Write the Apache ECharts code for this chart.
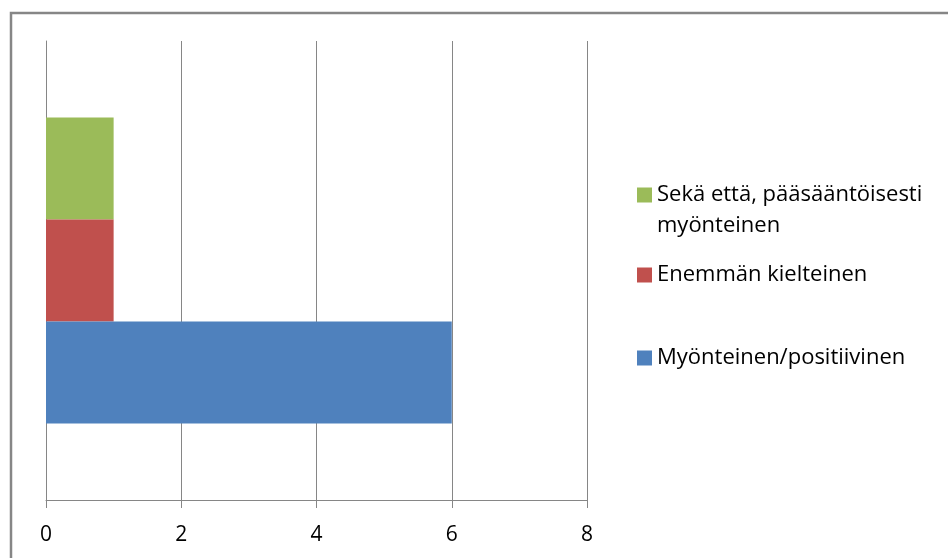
<!DOCTYPE html>
<html>
<head>
<meta charset="utf-8">
<script src="https://cdn.jsdelivr.net/npm/echarts@6/dist/echarts.min.js"></script>
<style>
  html, body { margin: 0; padding: 0; background: #fff; }
  #chart { width: 948px; height: 558px; }
</style>
</head>
<body>
<div id="chart"></div>
<script>
// Answer categories and counts
const categories = [''];
const seriesNames = ['Sekä että, pääsääntöisesti myönteinen', 'Enemmän kielteinen', 'Myönteinen/positiivinen'];
const legendLabels = ['Sekä että, pääsääntöisesti', 'Enemmän kielteinen', 'Myönteinen/positiivinen'];
const legendSecondLine = 'myönteinen';
const sekaEtta = [1];
const kielteinen = [1];
const myonteinen = [6];
const xTicks = { min: 0, max: 8, interval: 2 };

const colors = ['#9BBB59', '#C0504D', '#4F81BD'];
const values = [sekaEtta, kielteinen, myonteinen];
const grey = '#868686';
const font = '"Open Sans", Lato, sans-serif';

const chart = echarts.init(document.getElementById('chart'));

// bars stack top-to-bottom in series order; legend rows follow the same order
const legendTops = [182, 262, 345];
const legends = seriesNames.map((name, i) => ({
  data: [name],
  left: 637,
  top: legendTops[i],
  padding: 0,
  itemWidth: 15,
  itemHeight: 15,
  icon: 'rect',
  selectedMode: false,
  formatter: () => legendLabels[i],
  textStyle: { fontFamily: font, fontSize: 22, color: '#000', lineHeight: 26 }
}));

chart.setOption({
  animation: false,
  color: colors,
  graphic: [{
    type: 'rect',
    shape: { x: 11, y: 13, width: 1000, height: 1000 },
    style: { fill: null, stroke: grey, lineWidth: 2.5 },
    silent: true
  }, {
    type: 'text',
    left: 657,
    top: 215,
    style: { text: legendSecondLine, font: '22px ' + font, fill: '#000' },
    silent: true
  }],
  legend: legends,
  grid: { left: 46, right: 361, top: 41, bottom: 58 },
  xAxis: {
    type: 'value',
    min: xTicks.min, max: xTicks.max, interval: xTicks.interval,
    axisLine: { show: true, lineStyle: { color: grey, width: 1 } },
    axisTick: { show: true, length: 8, lineStyle: { color: grey } },
    splitLine: { show: true, lineStyle: { color: grey, width: 1 } },
    axisLabel: { fontFamily: font, fontSize: 21, color: '#000', margin: 25 }
  },
  yAxis: {
    type: 'category',
    data: categories,
    axisLine: { show: true, lineStyle: { color: grey, width: 1 } },
    axisTick: { show: false },
    axisLabel: { show: false }
  },
  series: seriesNames.map((name, i) => ({
    type: 'bar',
    name: name,
    data: values[i],
    barGap: '0%',
    barCategoryGap: '33.3%',
    itemStyle: { color: colors[i] }
  }))
});
</script>
</body>
</html>
